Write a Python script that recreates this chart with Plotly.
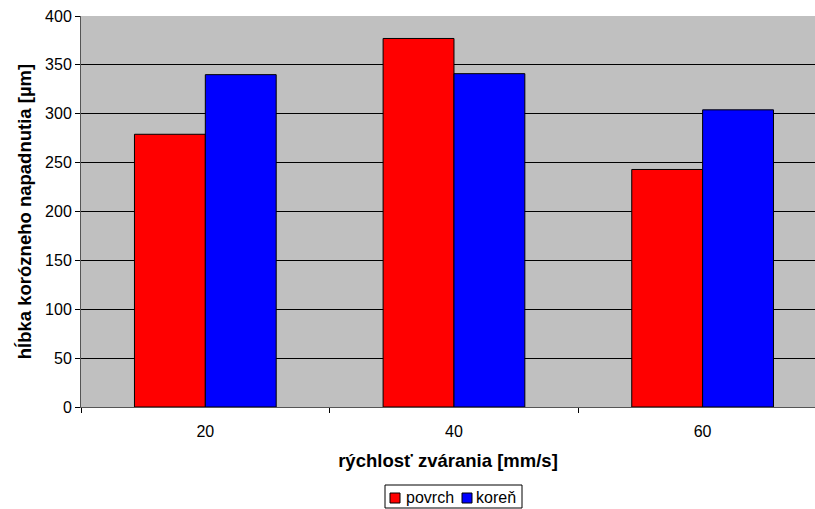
import plotly.graph_objects as go

categories = ["20", "40", "60"]
series_names = ["povrch", "koreň"]
series_colors = ["#FF0000", "#0000FF"]
povrch = [279, 377, 243]
koren = [340, 341, 304]
y_ticks = [0, 50, 100, 150, 200, 250, 300, 350, 400]

W, H = 815, 509
L, R, T, B = 81, 0, 16, 102
PW, PH = W - L - R, H - T - B


def px(x):
    return (x - L) / PW


def py(y):
    return (H - B - y) / PH


fig = go.Figure()
for name, vals, col in zip(series_names, [povrch, koren], series_colors):
    fig.add_trace(go.Bar(name=name, x=categories, y=vals, showlegend=False,
                         marker=dict(color=col, line=dict(color="#000000", width=1))))

font = "Liberation Sans, Arial, sans-serif"

# manual legend (box, swatches, labels)
shapes = [dict(type="rect", xref="paper", yref="paper",
               x0=px(385), x1=px(522), y0=py(485), y1=py(508),
               line=dict(color="#000000", width=1), fillcolor="white", layer="above")]
annotations = []
sw_x = [390, 462]
tx_x = [404, 474]
for name, col, sx, tx in zip(series_names, series_colors, sw_x, tx_x):
    shapes.append(dict(type="rect", xref="paper", yref="paper",
                       x0=px(sx), x1=px(sx + 10), y0=py(493), y1=py(503),
                       line=dict(color="#000000", width=1), fillcolor=col, layer="above"))
    annotations.append(dict(text=name, xref="paper", yref="paper", x=px(tx), y=py(497.5),
                            xanchor="left", yanchor="middle", showarrow=False,
                            font=dict(size=16, family=font, color="#000000")))

fig.update_layout(
    width=W, height=H,
    margin=dict(l=L, r=R, t=T, b=B, autoexpand=False),
    paper_bgcolor="white", plot_bgcolor="#C0C0C0",
    barmode="group", bargap=0.43, bargroupgap=0,
    font=dict(family=font, size=16, color="#000000"),
    showlegend=False,
    shapes=shapes, annotations=annotations,
    xaxis=dict(type="category", range=[-0.5, 2.452], tickson="boundaries",
               ticks="outside", ticklen=5, tickcolor="#000000",
               ticklabelstandoff=10,
               showline=True, linecolor="#555555", linewidth=1,
               showgrid=False,
               title=dict(text="<b>rýchlosť zvárania [mm/s]</b>", font=dict(size=18.5), standoff=14)),
    yaxis=dict(range=[0, 400], tickvals=y_ticks, ticks="outside", ticklen=5,
               tickcolor="#000000", showline=True, linecolor="#555555", linewidth=1,
               showgrid=True, gridcolor="#000000", gridwidth=1, zeroline=False,
               title=dict(text="<b>hĺbka korózneho napadnutia [µm]</b>", font=dict(size=18.5), standoff=8)),
)
fig.write_html("out.html")
